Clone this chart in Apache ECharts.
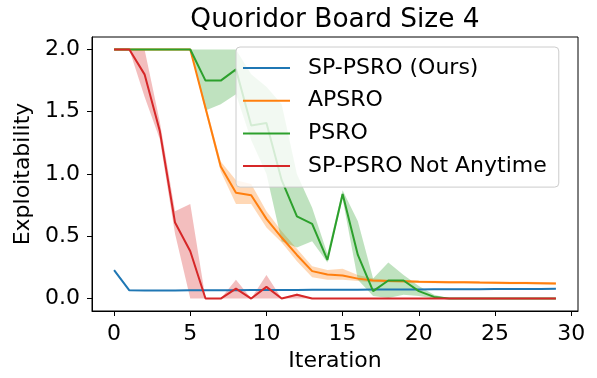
<!DOCTYPE html>
<html>
<head>
<meta charset="utf-8">
<script src="https://cdn.jsdelivr.net/npm/echarts@6/dist/echarts.min.js"></script>
<style>
html,body{margin:0;padding:0;background:#fff;}
#chart{width:597px;height:378px;}
</style>
</head>
<body>
<div id="chart"></div>
<script>
// ---- data ----
const iterations = [0,1,2,3,4,5,6,7,8,9,10,11,12,13,14,15,16,17,18,19,20,21,22,23,24,25,26,27,28,29];
const xTicks = [0,5,10,15,20,25,30];
const yTicks = [0,0.5,1.0,1.5,2.0];
const seriesNames = ['SP-PSRO (Ours)','APSRO','PSRO','SP-PSRO Not Anytime'];

const spMean = [0.228,0.066,0.065,0.065,0.065,0.066,0.066,0.067,0.067,0.068,0.068,0.069,0.069,0.070,0.070,0.071,0.071,0.072,0.072,0.073,0.073,0.074,0.074,0.075,0.075,0.076,0.076,0.077,0.077,0.078];
const spLo   = [0.222,0.062,0.061,0.061,0.061,0.062,0.062,0.063,0.063,0.064,0.064,0.065,0.065,0.066,0.066,0.067,0.067,0.068,0.068,0.069,0.069,0.070,0.070,0.071,0.071,0.072,0.072,0.073,0.073,0.074];
const spHi   = [0.234,0.070,0.069,0.069,0.069,0.070,0.070,0.071,0.071,0.072,0.072,0.073,0.073,0.074,0.074,0.075,0.075,0.076,0.076,0.077,0.077,0.078,0.078,0.079,0.079,0.080,0.080,0.081,0.081,0.082];

const apMean = [2.0,2.0,2.0,2.0,2.0,2.0,1.53,1.06,0.85,0.83,0.64,0.49,0.35,0.22,0.193,0.185,0.16,0.145,0.14,0.138,0.135,0.133,0.131,0.130,0.128,0.127,0.125,0.124,0.122,0.120];
const apLo   = [2.0,2.0,2.0,2.0,2.0,2.0,1.50,1.02,0.76,0.76,0.57,0.45,0.30,0.17,0.15,0.15,0.14,0.13,0.13,0.128,0.125,0.123,0.121,0.120,0.118,0.117,0.115,0.114,0.112,0.110];
const apHi   = [2.0,2.0,2.0,2.0,2.0,2.0,1.56,1.10,0.95,0.92,0.70,0.54,0.40,0.26,0.23,0.24,0.19,0.16,0.15,0.148,0.145,0.143,0.141,0.140,0.138,0.137,0.135,0.134,0.132,0.130];

const psMean = [2.0,2.0,2.0,2.0,2.0,2.0,1.75,1.75,1.84,1.39,1.41,0.95,0.66,0.60,0.31,0.84,0.35,0.06,0.145,0.145,0.06,0.013,0,0,0,0,0,0,0,0];
const psLo   = [2.0,2.0,2.0,2.0,2.0,2.0,1.51,1.56,1.64,1.27,1.00,0.46,0.41,0.46,0.29,0.80,0.15,0.02,0.005,0.03,0.02,0,0,0,0,0,0,0,0,0];
const psHi   = [2.0,2.0,2.0,2.0,2.0,2.0,2.0,2.0,2.0,1.80,1.70,1.56,1.00,0.73,0.36,0.87,0.62,0.16,0.29,0.19,0.10,0.03,0,0,0,0,0,0,0,0];

const naMean = [2.0,2.0,1.80,1.346,0.61,0.38,0,0,0.08,0,0.094,0,0.03,0,0,0,0,0,0,0,0,0,0,0,0,0,0,0,0,0];
const naLo   = [2.0,2.0,1.62,1.28,0.52,0,0,0,0,0,0,0,0,0,0,0,0,0,0,0,0,0,0,0,0,0,0,0,0,0];
const naHi   = [2.0,2.0,2.0,1.42,0.70,0.76,0,0,0.15,0,0.19,0,0.04,0,0,0,0,0,0,0,0,0,0,0,0,0,0,0,0,0];

const colors = ['#1f77b4','#ff7f0e','#2ca02c','#d62728'];
const means = [spMean, apMean, psMean, naMean];
const los = [spLo, apLo, psLo, naLo];
const his = [spHi, apHi, psHi, naHi];

// ---- build series ----
const pairs = arr => iterations.map((x, i) => [x, arr[i]]);
const series = [];
seriesNames.forEach((name, k) => {
  // band as one polygon through the axis scales
  const bandData = iterations.map((x, i) => [x, los[k][i], his[k][i]]);
  series.push({
    name: name + ' band', type: 'custom', silent: true, z: 2,
    data: bandData,
    encode: { x: 0, y: [1, 2] },
    renderItem: function (params, api) {
      if (params.dataIndex !== 0) return null;
      const upper = bandData.map(d => api.coord([d[0], d[2]]));
      const lower = bandData.slice().reverse().map(d => api.coord([d[0], d[1]]));
      return {
        type: 'polygon',
        shape: { points: upper.concat(lower) },
        style: { fill: colors[k], opacity: 0.3 }
      };
    }
  });
  series.push({
    name: name, type: 'line', data: pairs(means[k]), symbol: 'none', showSymbol: false,
    color: colors[k], lineStyle: { color: colors[k], width: 2 }, z: 3
  });
});

const font = 'DejaVu Sans';
const chart = echarts.init(document.getElementById('chart'), null, { renderer: 'canvas' });
chart.setOption({
  animation: false,
  backgroundColor: '#fff',
  textStyle: { fontFamily: font },
  title: {
    text: 'Quoridor Board Size 4',
    left: 335, top: 7, padding: 0, textAlign: 'center',
    textStyle: { fontFamily: font, fontSize: 26.4, fontWeight: 'normal', color: '#000' }
  },
  grid: {
    left: 92, right: 19, top: 37, bottom: 67,
    show: true, borderColor: '#000', borderWidth: 1, backgroundColor: 'transparent'
  },
  legend: {
    data: seriesNames,
    orient: 'vertical',
    left: 236, top: 47,
    padding: [10, 12, 10, 7],
    icon: 'rect',
    itemWidth: 47, itemHeight: 2, itemGap: 10.7,
    backgroundColor: 'rgba(255,255,255,0.8)',
    borderColor: '#cccccc', borderWidth: 1, borderRadius: 4,
    textStyle: { fontFamily: font, fontSize: 22, lineHeight: 22, color: '#000', padding: [0, 0, 0, 13] },
    selectedMode: false,
    z: 10
  },
  xAxis: {
    type: 'value', min: -1.45, max: 30.45,
    name: 'Iteration', nameLocation: 'middle', nameGap: 38,
    nameTextStyle: { fontFamily: font, fontSize: 22, color: '#000' },
    axisLine: { show: true, onZero: false, lineStyle: { color: '#000', width: 1 } },
    axisTick: { show: true, length: 5, lineStyle: { color: '#000' }, customValues: xTicks },
    axisLabel: { customValues: xTicks, margin: 12, fontFamily: font, fontSize: 22, color: '#000' },
    splitLine: { show: false }
  },
  yAxis: {
    type: 'value', min: -0.1, max: 2.1,
    name: 'Exploitability', nameLocation: 'middle', nameGap: 56, nameRotate: 90,
    nameTextStyle: { fontFamily: font, fontSize: 22, color: '#000' },
    axisLine: { show: true, onZero: false, lineStyle: { color: '#000', width: 1 } },
    axisTick: { show: true, length: 5, lineStyle: { color: '#000' }, customValues: yTicks },
    axisLabel: { customValues: yTicks, margin: 12, fontFamily: font, fontSize: 22, color: '#000',
      formatter: v => Number(v).toFixed(1) },
    splitLine: { show: false }
  },
  series: series
});
</script>
</body>
</html>
